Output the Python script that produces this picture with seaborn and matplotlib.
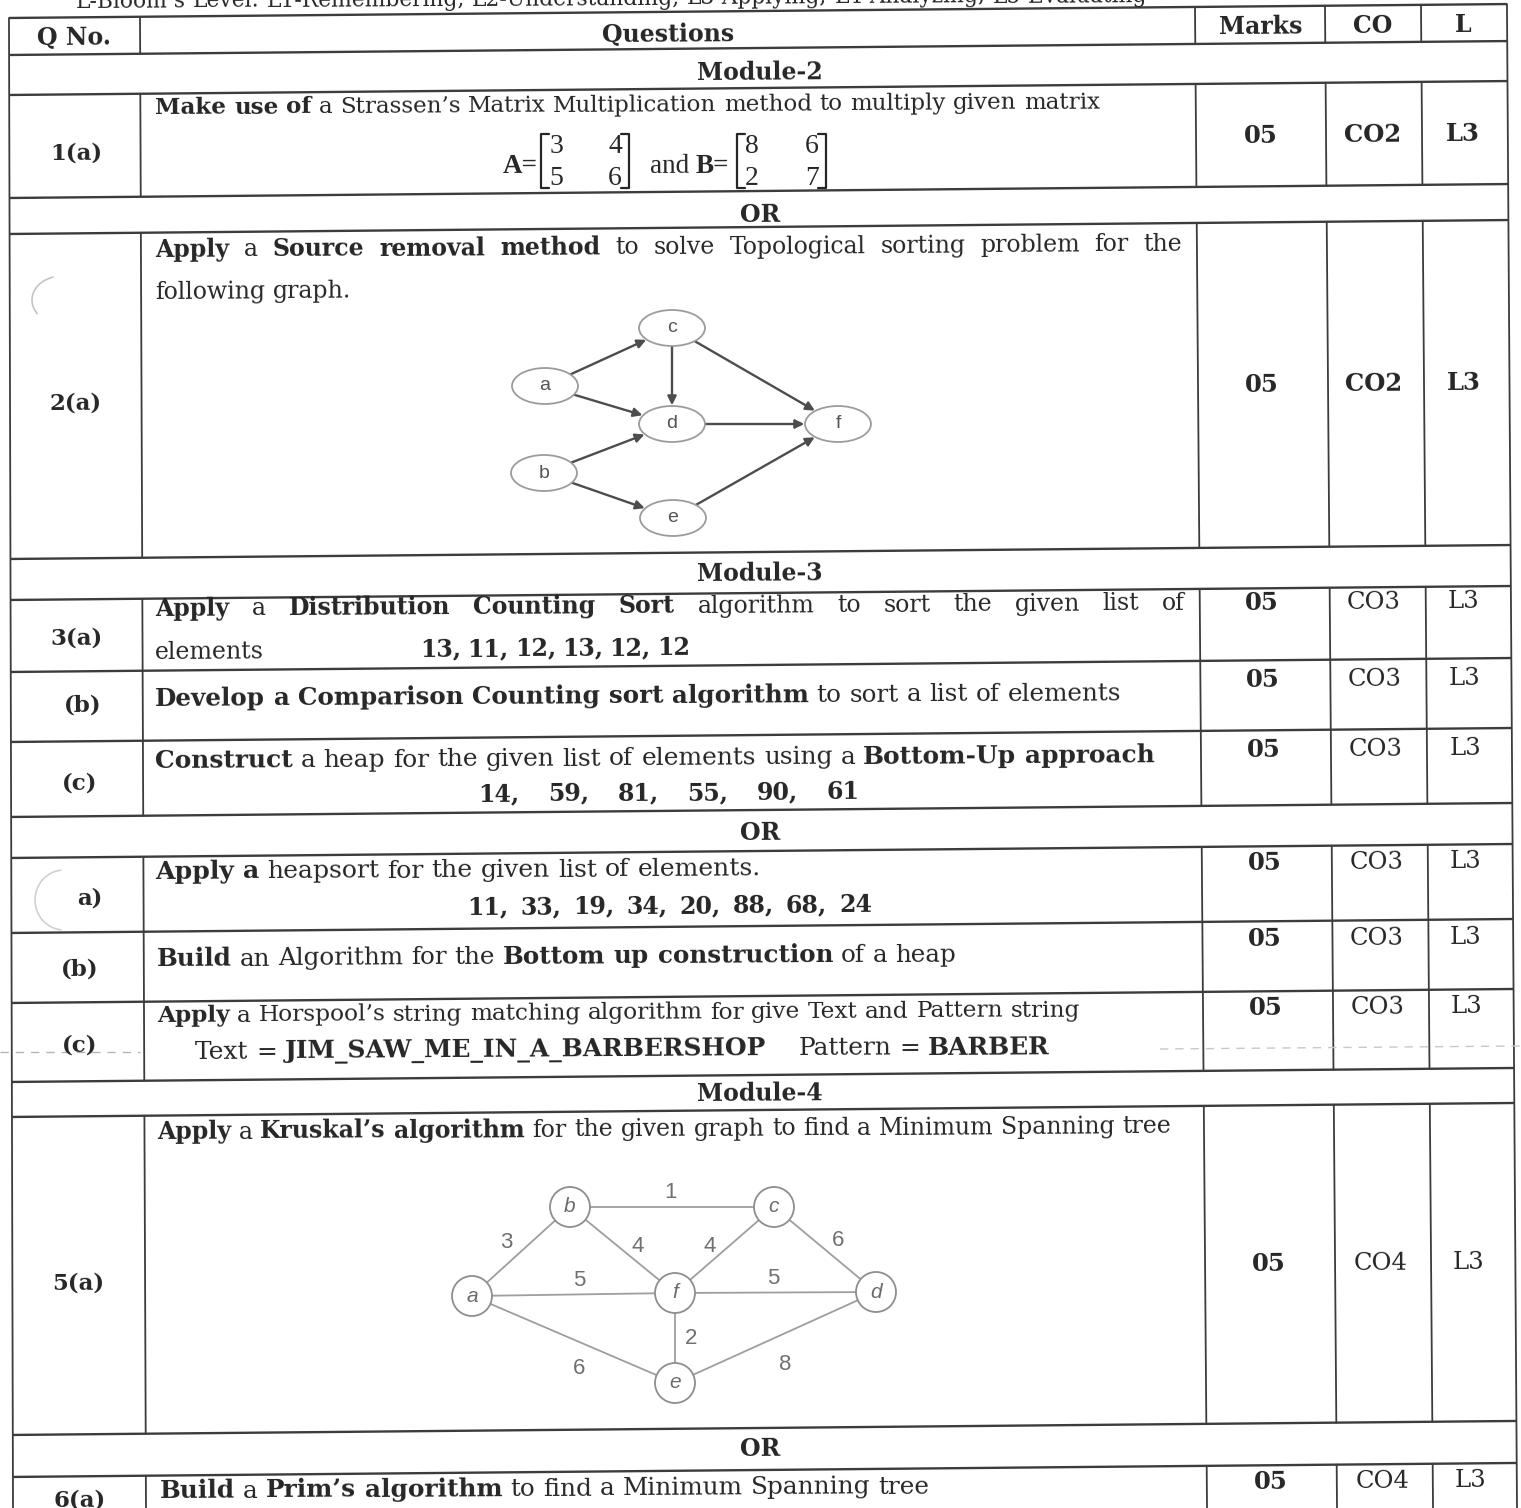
import re
import math
import matplotlib
matplotlib.use("Agg")
import matplotlib.pyplot as plt
import matplotlib.patches as mpatches
import seaborn as sns

# ---------------- content of the sheet ----------------
bloom_line = "L-Bloom’s Level: L1-Remembering, L2-Understanding, L3-Applying, L4-Analyzing, L5-Evaluating"
header = ["Q No.", "Questions", "Marks", "CO", "L"]
banners = ["Module-2", "OR", "Module-3", "OR", "Module-4", "OR"]
q_no = ["1(a)", "2(a)", "3(a)", "(b)", "(c)", "a)", "(b)", "(c)", "5(a)", "6(a)"]
marks = ["05", "05", "05", "05", "05", "05", "05", "05", "05", "05"]
co = ["CO2", "CO2", "CO3", "CO3", "CO3", "CO3", "CO3", "CO3", "CO4", "CO4"]
level = ["L3", "L3", "L3", "L3", "L3", "L3", "L3", "L3", "L3", "L3"]
co_bold = [True, True, False, False, False, False, False, False, False, False]

B, R = True, False
question_lines = [
    [("Make use of", B), (" a Strassen’s Matrix Multiplication method to multiply given matrix", R)],
    [("Apply", B), (" a ", R), ("Source removal method", B), (" to solve Topological sorting problem for the", R)],
    [("following graph.", R)],
    [("Apply", B), (" a ", R), ("Distribution Counting Sort", B), (" algorithm to sort the given list of", R)],
    [("elements", R)],
    [("13, 11, 12, 13, 12, 12", B)],
    [("Develop a Comparison Counting sort algorithm", B), (" to sort a list of elements", R)],
    [("Construct", B), (" a heap for the given list of elements using a ", R), ("Bottom-Up approach", B)],
    [("14, 59, 81, 55, 90, 61", B)],
    [("Apply a", B), (" heapsort for the given list of elements.", R)],
    [("11, 33, 19, 34, 20, 88, 68, 24", B)],
    [("Build", B), (" an Algorithm for the ", R), ("Bottom up construction", B), (" of a heap", R)],
    [("Apply", B), (" a Horspool’s string matching algorithm for give Text and Pattern string", R)],
    [("Text = ", R), ("JIM_SAW_ME_IN_A_BARBERSHOP", B), ("    Pattern = ", R), ("BARBER", B)],
    [("Apply", B), (" a ", R), ("Kruskal’s algorithm", B), (" for the given graph to find a Minimum Spanning tree", R)],
    [("Build", B), (" a ", R), ("Prim’s algorithm", B), (" to find a Minimum Spanning tree", R)],
]

mat_a = [[3, 4], [5, 6]]
mat_b = [[8, 6], [2, 7]]

# topological sorting graph
topo_nodes = ["a", "b", "c", "d", "e", "f"]
topo_edges = [("a", "c"), ("a", "d"), ("b", "d"), ("b", "e"),
              ("c", "d"), ("c", "f"), ("d", "f"), ("e", "f")]

# kruskal graph
mst_nodes = ["a", "b", "c", "d", "e", "f"]
mst_edges = [("b", "c"), ("a", "b"), ("b", "f"), ("c", "f"), ("c", "d"),
             ("a", "f"), ("f", "d"), ("f", "e"), ("a", "e"), ("e", "d")]
mst_weights = [1, 3, 4, 4, 6, 5, 5, 2, 6, 8]

# ---------------- layout (pixels of the page) ----------------
W, H = 1521, 1508
SERIF = ["DejaVu Serif"]
TIMES = ["Liberation Serif", "DejaVu Serif"]
SANS = ["Liberation Sans", "DejaVu Sans"]
INK = "#262626"
RULE = "#3c3c3c"
HS = 17      # header / banner size
QN = 16.5    # question number size
MS = 17.5    # marks columns size
JS = 17      # justified / loose lines
ST = 0.006   # slope of the scanned text lines
SL = 0.0093  # slope of the scanned table rules
ROT = math.degrees(math.atan(ST))

row_y = [11, 48, 88, 191, 227, 552, 593, 665, 735, 810, 851, 926, 996, 1075, 1110, 1428, 1470]
banner_rows = [1, 3, 5, 9, 13, 15]
col_top = [9, 140, 1195, 1325, 1421, 1507]
col_bot = [13, 146, 1207, 1337, 1433, 1517]

header_pos = [(74, 45), (668, 42), (1261, 34), (1373, 33), (1463, 32)]
banner_y = [80, 222, 581, 840, 1101, 1456]
qno_pos = [(76, 159), (76, 409), (76, 644), (83, 711), (80, 789),
           (90, 904), (80, 975), (80, 1051), (78, 1289), (80, 1506)]
mark_y = [143, 392, 610, 687, 757, 870, 946, 1015, 1271, 1489]
mark_dx = [0, 1, 1, 2, 3, 4, 4, 5, 8, 10]
# x start, baseline, right end, justified, size (None = fit to right end)
line_pos = [(155, 114, 1100, False, None), (155, 257, 1182, True, JS), (155, 299, None, False, JS),
            (155, 616, 1185, True, JS), (155, 659, None, False, JS), (420, 656, 690, True, JS),
            (155, 706, 1118, False, None), (155, 768, 1155, False, None), (478, 801, 860, True, JS),
            (155, 879, 760, False, None), (467, 914, 872, True, JS), (157, 966, 955, False, None),
            (157, 1022, 1078, False, None), (195, 1059, 1050, False, None), (157, 1139, 1172, False, None),
            (160, 1498, 928, False, None)]

topo_pos = {"a": (545, 386), "b": (544, 473), "c": (672, 328),
            "d": (672, 424), "e": (673, 518), "f": (838, 424)}
mst_pos = {"a": (472, 1296), "b": (570, 1207), "c": (774, 1207),
           "d": (876, 1292), "e": (675, 1383), "f": (675, 1293)}
mst_label_pos = [(671, 1192), (506, 1243), (638, 1247), (710, 1247), (838, 1240),
                 (579, 1280), (773, 1279), (691, 1338), (579, 1369), (785, 1365)]

sns.set_theme(style="white")
plt.rcParams["font.family"] = SERIF

fig = plt.figure(figsize=(W / 100, H / 100), dpi=100)
fig.patch.set_facecolor("white")
ax = fig.add_axes([0, 0, 1, 1])
ax.set_xlim(0, W)
ax.set_ylim(H, 0)
ax.axis("off")
renderer = fig.canvas.get_renderer()


def text_width(s, size, bold):
    t = ax.text(0, 0, s, fontsize=size, family=SERIF, fontweight="bold" if bold else "normal")
    w = t.get_window_extent(renderer=renderer).width
    t.remove()
    return w


SPACE = {b: (text_width("x x", 20, b) - text_width("xx", 20, b)) / 20 for b in (True, False)}


def tokens_of(parts, size):
    out = []
    for s, b in parts:
        for m in re.finditer(r"\S+|\s+", s):
            tok = m.group()
            if tok.isspace():
                out.append((None, len(tok) * SPACE[b] * size, b))
            else:
                out.append((tok, text_width(tok, size, b), b))
    return out


def put(x, y, s, size, bold, ha="left", family=SERIF, **kw):
    ax.text(x, y, s, fontsize=size, family=family, fontweight="bold" if bold else "normal",
            ha=ha, va="baseline", rotation=ROT, rotation_mode="anchor", color=INK, **kw)


def put_line(x, y, parts, right=None, justify=False, size=None):
    if size is None:
        base = sum(t[1] for t in tokens_of(parts, 20))
        size = 20 * (right - x) / base
    tokens = tokens_of(parts, size)
    total = sum(t[1] for t in tokens)
    gaps = [t for t in tokens if t[0] is None]
    extra = (right - x - total) / len(gaps) if (justify and gaps) else 0
    cur = x
    for tok, w, b in tokens:
        if tok is None:
            cur += w + extra
            continue
        put(cur, y - ST * (cur - x), tok, size, b)
        cur += w


def y_row(j, x):
    return row_y[j] - SL * (x - 760)


def x_col(i, y):
    return col_top[i] + (col_bot[i] - col_top[i]) * (y - 11) / (H - 11)


# ---------------- table rules ----------------
for j in range(len(row_y)):
    xl, xr = x_col(0, row_y[j]), x_col(5, row_y[j])
    ax.plot([xl, xr], [y_row(j, xl), y_row(j, xr)], color=RULE, lw=1.7, solid_capstyle="butt")
for i in (0, 5):
    ax.plot([x_col(i, 5), x_col(i, H + 10)], [y_row(0, x_col(i, 5)), H + 10], color=RULE, lw=1.3)
for j in range(len(row_y)):
    if j in banner_rows:
        continue
    for i in range(1, 5):
        xt = x_col(i, row_y[j])
        yt = y_row(j, xt)
        yb = y_row(j + 1, xt) if j + 1 < len(row_y) else H + 10
        ax.plot([xt, x_col(i, yb)], [yt, yb], color=RULE, lw=1.3)

# fold line and punch holes of the scan
ax.plot([0, 140], [1052, 1052], color="#b5b5b5", lw=1.0, ls=(0, (6, 5)))
ax.plot([1160, W], [1049, 1046], color="#c8c8c8", lw=1.0, ls=(0, (6, 5)))
ax.add_patch(mpatches.Arc((62, 300), 60, 48, theta1=150, theta2=250, color="#c4c4c4", lw=1.2))
ax.add_patch(mpatches.Arc((64, 900), 58, 60, theta1=95, theta2=265, color="#d0d0d0", lw=1.2))

# ---------------- texts ----------------
put_line(76, 8, [(bloom_line, R)], 1145)
for s, (x, y) in zip(header, header_pos):
    put(x, y, s, HS, True, ha="center")
for s, y in zip(banners, banner_y):
    put(760, y, s, HS, True, ha="center")
for s, (x, y) in zip(q_no, qno_pos):
    put(x, y, s, QN, True, ha="center")
for k in range(len(marks)):
    y, dx = mark_y[k], mark_dx[k]
    put(1261 + dx, y, marks[k], MS, True, ha="center")
    put(1373 + dx, y - 1, co[k], MS, co_bold[k], ha="center")
    put(1463 + dx * 0.7, y - 2, level[k], MS, co_bold[k], ha="center")
for parts, (x, y, right, just, size) in zip(question_lines, line_pos):
    put_line(x, y, parts, right, just, size)


# ---------------- matrices of 1(a) ----------------
def matrix(x0, x1, cols, vals):
    for xb, d in ((x0, 8), (x1, -8)):
        ax.plot([xb + d, xb, xb, xb + d], [134, 134, 188, 188], color=INK, lw=1.6)
    for r, yb in enumerate((153, 185)):
        for c, xc in enumerate(cols):
            put(xc, yb, str(vals[r][c]), 20, False, ha="center", family=TIMES)


put(503, 173, "A=", 19.5, True, family=TIMES)
matrix(541, 629, (556, 615), mat_a)
put(650, 173, "and", 19.5, False, family=TIMES)
put(696, 173, "B=", 19.5, True, family=TIMES)
matrix(737, 826, (752, 812), mat_b)

# ---------------- topological graph 2(a) ----------------
ells = {}
for n in topo_nodes:
    e = mpatches.Ellipse(topo_pos[n], 66, 36, fc="white", ec="#9c9c9c", lw=1.3, zorder=3)
    ax.add_patch(e)
    ells[n] = e
    ax.text(*topo_pos[n], n, family=SANS, fontsize=14, color="#555555",
            ha="center", va="center", zorder=4)
for u, v in topo_edges:
    ax.add_patch(mpatches.FancyArrowPatch(topo_pos[u], topo_pos[v], patchA=ells[u], patchB=ells[v],
                                          arrowstyle="-|>", mutation_scale=13, color="#4d4d4d",
                                          lw=1.7, shrinkA=1, shrinkB=1, zorder=2))

# ---------------- kruskal graph 5(a) ----------------
for (u, v), wgt, (lx, ly) in zip(mst_edges, mst_weights, mst_label_pos):
    (x0, y0), (x1, y1) = mst_pos[u], mst_pos[v]
    ax.plot([x0, x1], [y0, y1], color="#9e9e9e", lw=1.3, zorder=2)
    ax.text(lx, ly, str(wgt), family=SANS, fontsize=16, color="#707070",
            ha="center", va="center", zorder=4)
for n in mst_nodes:
    ax.add_patch(mpatches.Circle(mst_pos[n], 20, fc="white", ec="#8e8e8e", lw=1.3, zorder=3))
    ax.text(*mst_pos[n], n, family=SANS, fontsize=15, fontstyle="italic", color="#6a6a6a",
            ha="center", va="center", zorder=4)

fig.savefig("out.png", dpi=100, facecolor="white")
